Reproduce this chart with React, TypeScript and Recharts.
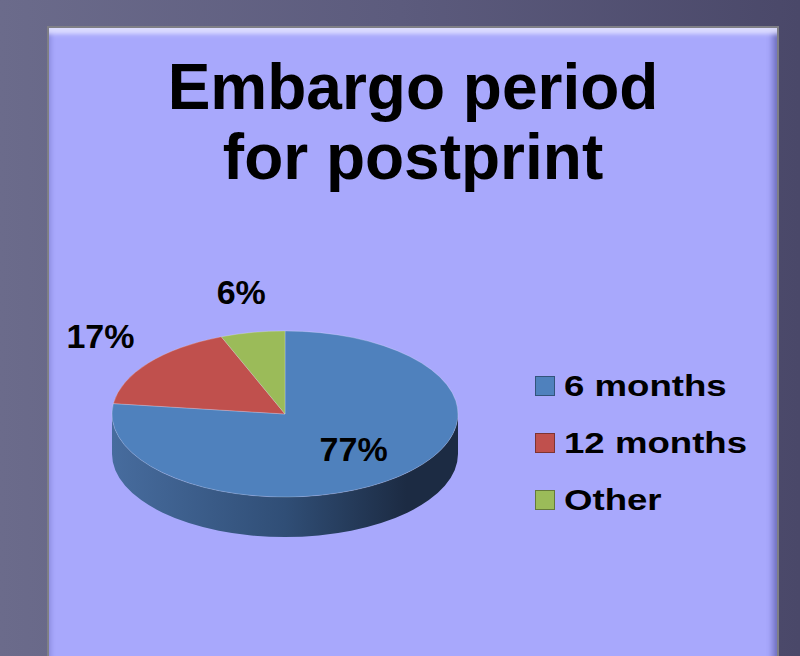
import { PieChart, Pie, Cell, Legend } from 'recharts';

// valores
const categories = ['6 months', '12 months', 'Other'];
const shares = [77, 17, 6];
const sliceColors = ['#4f81bd', '#c0504d', '#9bbb59'];
// colores de la pared lateral (izquierda, centro, derecha)
const wallColors = [
  ['#476c9e', '#304e76', '#1c2b43'],
  ['#a34441', '#7d3432', '#552220'],
  ['#84a04b', '#677d3a', '#4a5a2a'],
];
const titleLines = ['Embargo period', 'for postprint'];

const FONT = 'Arial, "Liberation Sans", sans-serif';
const TILT = 0.48; // achatamiento de la elipse
const DEPTH = 40; // grosor del disco

const data = categories.map((name, i) => ({ name, value: shares[i] }));

const ellPt = (cx: number, cy: number, rx: number, ry: number, deg: number) => {
  const r = (deg * Math.PI) / 180;
  return [cx + rx * Math.cos(r), cy - ry * Math.sin(r)];
};

const Slice3D = (props: any) => {
  const { cx, cy, outerRadius, startAngle, endAngle, fill } = props;
  const name = props.payload?.name ?? props.name;
  const idx = Math.max(0, categories.indexOf(name));
  const rx = outerRadius;
  const ry = outerRadius * TILT;
  const [x0, y0] = ellPt(cx, cy, rx, ry, startAngle);
  const [x1, y1] = ellPt(cx, cy, rx, ry, endAngle);
  const large = Math.abs(endAngle - startAngle) > 180 ? 1 : 0;
  const sweep = endAngle < startAngle ? 1 : 0;
  const top = `M${cx},${cy} L${x0},${y0} A${rx},${ry} 0 ${large} ${sweep} ${x1},${y1} Z`;

  // trozos de la pared frontal (mitad inferior de la elipse)
  const lo = Math.min(startAngle, endAngle);
  const hi = Math.max(startAngle, endAngle);
  const walls: string[] = [];
  for (let k = -2; k <= 2; k++) {
    const a = Math.max(lo, -180 + 360 * k);
    const b = Math.min(hi, 360 * k);
    if (b > a) {
      const [ax, ay] = ellPt(cx, cy, rx, ry, a);
      const [bx, by] = ellPt(cx, cy, rx, ry, b);
      walls.push(
        `M${ax},${ay} A${rx},${ry} 0 0 0 ${bx},${by} L${bx},${by + DEPTH} A${rx},${ry} 0 0 1 ${ax},${ay + DEPTH} Z`
      );
    }
  }
  const gid = `wall-grad-${idx}`;
  const wc = wallColors[idx];

  return (
    <g>
      <defs>
        <linearGradient id={gid} gradientUnits="userSpaceOnUse" x1={cx - rx} y1={0} x2={cx + rx} y2={0}>
          <stop offset="0%" stopColor={wc[0]} />
          <stop offset="50%" stopColor={wc[1]} />
          <stop offset="85%" stopColor={wc[2]} />
          <stop offset="100%" stopColor={wc[2]} />
        </linearGradient>
      </defs>
      {walls.map((d, i) => (
        <path key={i} d={d} fill={`url(#${gid})`} stroke="none" />
      ))}
      <path d={top} fill={fill} stroke="rgba(255,255,255,0.22)" strokeWidth={1} />
    </g>
  );
};

const renderLabel = (props: any) => {
  const { cx, cy, midAngle, outerRadius, percent } = props;
  const rx = outerRadius;
  const ry = outerRadius * TILT;
  const inside = percent > 0.3;
  const fx = inside ? 0.6 : 1.35;
  const fy = inside ? 0.6 : 1.45;
  const r = (midAngle * Math.PI) / 180;
  const x = cx + rx * fx * Math.cos(r);
  const y = cy - ry * fy * Math.sin(r) - (inside ? 2 : 3);
  return (
    <text
      x={x}
      y={y}
      dy="0.33em"
      textAnchor="middle"
      fontFamily={FONT}
      fontSize={34}
      fontWeight={700}
      fill="#000"
    >
      {`${Math.round(percent * 100)}%`}
    </text>
  );
};

const LegendList = ({ payload }: any) => {
  const items = [...(payload || [])].sort(
    (a: any, b: any) => categories.indexOf(a.value) - categories.indexOf(b.value)
  );
  return (
    <div>
      {items.map((entry: any, i: number) => (
        <div key={i} style={{ display: 'flex', alignItems: 'center', height: 57 }}>
          <span
            style={{
              display: 'inline-block',
              width: 20,
              height: 20,
              boxSizing: 'border-box',
              background: entry.color,
              border: '1px solid rgba(0,0,0,0.35)',
            }}
          />
          <span
            style={{
              display: 'inline-block',
              marginLeft: 9,
              fontFamily: FONT,
              fontSize: 30,
              fontWeight: 700,
              lineHeight: '30px',
              color: '#000',
              whiteSpace: 'nowrap',
              transform: 'scaleX(1.22)',
              transformOrigin: 'left center',
            }}
          >
            {entry.value}
          </span>
        </div>
      ))}
    </div>
  );
};

export default function App() {
  return (
    <div
      style={{
        position: 'absolute',
        left: 0,
        top: 0,
        width: 800,
        height: 656,
        overflow: 'hidden',
        background: 'linear-gradient(90deg, #6b6b8b 0%, #5c5b7d 50%, #4a4869 100%)',
      }}
    >
      <div
        style={{
          position: 'absolute',
          left: 47,
          top: 26,
          width: 732,
          height: 700,
          boxSizing: 'border-box',
          background: '#a8a8fc',
          border: '2px solid #7f7f86',
          boxShadow:
            'inset 0 12px 4px -6px rgba(225,225,255,0.9), inset -8px 0 6px -4px rgba(40,40,110,0.45), inset 5px 0 4px -3px rgba(60,60,140,0.25)',
        }}
      />
      <div
        style={{
          position: 'absolute',
          left: 47,
          top: 52,
          width: 732,
          textAlign: 'center',
          fontFamily: FONT,
          fontSize: 64,
          fontWeight: 700,
          lineHeight: '70px',
          color: '#000',
        }}
      >
        {titleLines.map((t) => (
          <div key={t}>{t}</div>
        ))}
      </div>
      <div style={{ position: 'absolute', left: 0, top: 0 }}>
        <PieChart width={800} height={656} margin={{ top: 0, right: 0, bottom: 0, left: 0 }}>
          <Pie
            data={data}
            dataKey="value"
            nameKey="name"
            cx={285}
            cy={414}
            outerRadius={173}
            startAngle={90}
            endAngle={-270}
            stroke="none"
            shape={Slice3D}
            activeShape={Slice3D}
            inactiveShape={Slice3D}
            label={renderLabel}
            labelLine={false}
            isAnimationActive={false}
          >
            {data.map((d, i) => (
              <Cell key={d.name} fill={sliceColors[i]} />
            ))}
          </Pie>
          <Legend
            layout="vertical"
            align="right"
            verticalAlign="top"
            itemSorter={null}
            content={<LegendList />}
            wrapperStyle={{ left: 535, top: 357, width: 250 }}
          />
        </PieChart>
      </div>
    </div>
  );
}
